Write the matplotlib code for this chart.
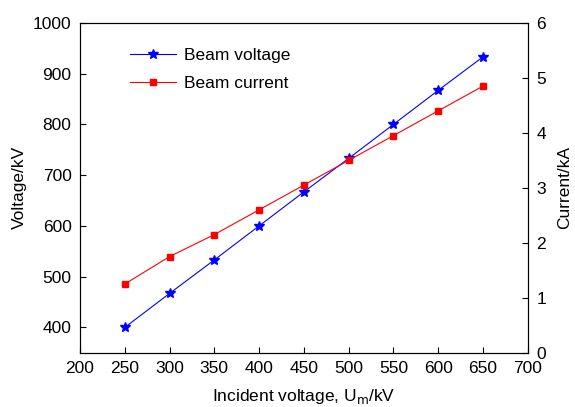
import matplotlib
matplotlib.use("Agg")
import matplotlib.pyplot as plt

incident = [250, 300, 350, 400, 450, 500, 550, 600, 650]
beam_voltage = [400, 467, 533, 600, 667, 733, 800, 867, 933]
beam_current = [1.25, 1.75, 2.15, 2.6, 3.05, 3.5, 3.95, 4.4, 4.85]

plt.rcParams['font.family'] = ['Liberation Sans', 'DejaVu Sans']
plt.rcParams['font.size'] = 12.5

fig = plt.figure(figsize=(5.75, 4.07), dpi=100)
ax = fig.add_axes([0.139, 0.133, 0.779, 0.811])
ax2 = ax.twinx()

l1, = ax.plot(incident, beam_voltage, color='blue', lw=0.8, marker='*',
              ms=7, label='Beam voltage')
l2, = ax2.plot(incident, beam_current, color='red', lw=0.8, marker='s',
               ms=5, label='Beam current')

ax.set_xlim(200, 700)
ax.set_ylim(350, 1000)
ax2.set_ylim(0, 6)
ax.set_xticks(range(200, 701, 50))
ax.set_yticks(range(400, 1001, 100))
ax2.set_yticks(range(0, 7))

ax.tick_params(direction='in', length=4, width=0.8, pad=6)
ax2.tick_params(direction='in', length=4, width=0.8, pad=6)

ax.set_xlabel('Incident voltage, U$_\\mathrm{m}$/kV', labelpad=8)
ax.set_ylabel('Voltage/kV', labelpad=4)
ax2.set_ylabel('Current/kA', labelpad=8)

ax.legend(handles=[l1, l2], loc='upper left', frameon=False,
          bbox_to_anchor=(0.078, 0.97), handlelength=2.6, handletextpad=0.5,
          labelspacing=0.7)

fig.savefig('out.png', dpi=100)
